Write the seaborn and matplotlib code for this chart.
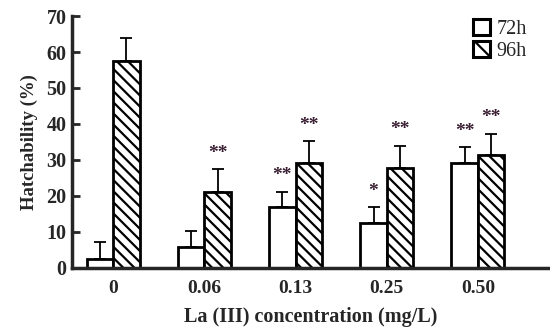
import numpy as np
import pandas as pd
import matplotlib
matplotlib.use("Agg")
import matplotlib.pyplot as plt
import seaborn as sns

# data
conc = ["0", "0.06", "0.13", "0.25", "0.50"]
h72 = [2.6, 5.7, 16.8, 12.4, 29.1]
h96 = [57.6, 21.1, 29.1, 27.8, 31.3]
err72 = [4.6, 4.6, 4.4, 4.4, 4.5]
err96 = [6.3, 6.3, 6.2, 6.2, 6.0]
stars72 = ["", "", "**", "*", "**"]
stars96 = ["", "**", "**", "**", "**"]

sns.set_style("ticks")
plt.rcParams['font.family'] = ['Liberation Serif', 'DejaVu Serif']
plt.rcParams['hatch.linewidth'] = 1.6

df = pd.DataFrame({
    "conc": conc * 2,
    "val": h72 + h96,
    "time": ["72h"] * 5 + ["96h"] * 5,
})

fig = plt.figure(figsize=(5.5, 3.34), dpi=100)
ax = fig.add_axes([0.131, 0.198, 0.869, 0.754])

sns.barplot(data=df, x="conc", y="val", hue="time", palette=["white", "white"],
            edgecolor="black", linewidth=2, width=0.58, errorbar=None,
            gap=0, ax=ax)

# hatch the 96h bars, add error bars + stars
n = len(conc)
bars = ax.patches[:2 * n]
for i, p in enumerate(bars):
    grp = i // n
    k = i % n
    if grp == 1:
        p.set_hatch("\\\\\\")
    cx = p.get_x() + p.get_width() / 2
    top = p.get_height()
    e = err72[k] if grp == 0 else err96[k]
    ax.errorbar(cx, top, yerr=[[0], [e]], fmt="none", ecolor="black",
                elinewidth=1.3, capsize=4, capthick=1.3, zorder=1)
    s = stars72[k] if grp == 0 else stars96[k]
    if s:
        ax.text(cx, top + e + 2.0, s, ha="center", va="bottom",
                fontsize=14, fontweight="bold", color="#3a1f33")

ax.set_ylim(0, 70)
ax.set_xlim(-0.45, 4.79)
ax.set_yticks(range(0, 71, 10))
ax.tick_params(axis="y", direction="in", length=6, width=2, labelsize=14.5, pad=4)
ax.tick_params(axis="x", length=0, labelsize=14, pad=9)
for lab in ax.get_xticklabels() + ax.get_yticklabels():
    lab.set_fontweight("bold")

ax.set_xlabel("La (III) concentration (mg/L)", fontsize=14.5, fontweight="bold", labelpad=7)
ax.set_ylabel("Hatchability (%)", fontsize=13.5, fontweight="bold", labelpad=6)

sns.despine(ax=ax)
ax.spines["left"].set_linewidth(2.5)
ax.spines["bottom"].set_linewidth(2.5)

leg = ax.legend(loc="upper right", bbox_to_anchor=(0.99, 1.06), frameon=False,
                fontsize=14.5, handlelength=0.85, handleheight=0.85,
                handletextpad=0.35, labelspacing=0.1)
for j, h in enumerate(leg.get_patches()):
    h.set_linewidth(2.2)
    if j == 1:
        h.set_hatch("\\\\")

fig.savefig("out.png", dpi=100)
